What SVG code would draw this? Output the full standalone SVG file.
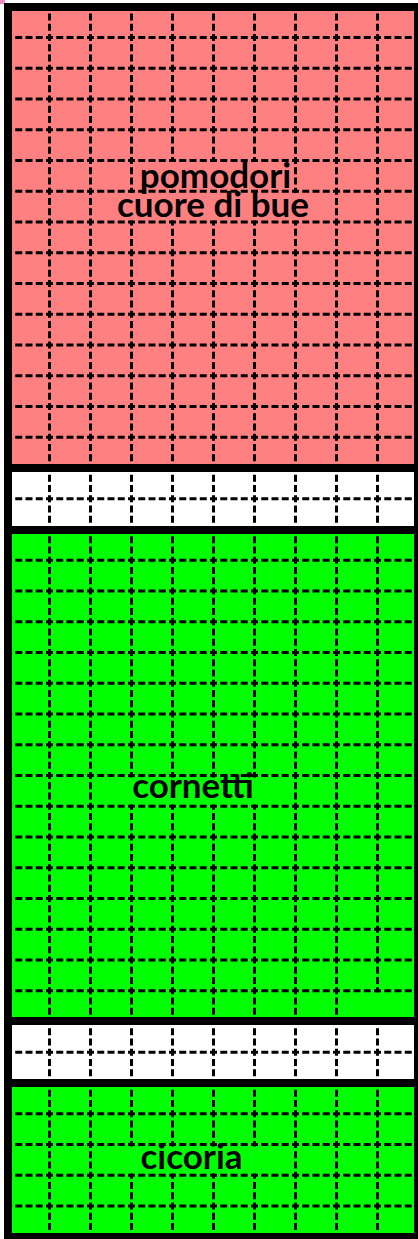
<svg xmlns="http://www.w3.org/2000/svg" width="418" height="1239" viewBox="0 0 418 1239">
<style>
.v{stroke:#000;stroke-width:3;stroke-dasharray:7 3.25;fill:none}
.h{stroke:#000;stroke-width:3;stroke-dasharray:7 3.25;fill:none}
.b{stroke:#000;stroke-width:8;fill:none}
.t{font-family:Lato,"Open Sans","Liberation Sans",sans-serif;font-weight:700;font-size:35px;fill:#000;text-anchor:middle}
.pk{fill:#FF8080}.gr{fill:#00FF00}.wh{fill:#FFFFFF}
</style>
<rect x="0" y="0" width="418" height="1239" fill="#FFFFFF"/>
<rect x="0" y="0" width="5" height="4" fill="#F08CBE"/>
<g id="fills">
<rect class="pk" x="12" y="11" width="402" height="453"/>
<rect class="wh" x="12" y="472" width="402" height="54"/>
<rect class="gr" x="12" y="534" width="402" height="483"/>
<rect class="wh" x="12" y="1025" width="402" height="54"/>
<rect class="gr" x="12" y="1087" width="402" height="146"/>
</g>
<g id="connectors">
<g id="vlines">
<line class="v" x1="49.5" y1="3.25" x2="49.5" y2="1239"/>
<line class="v" x1="90.5" y1="3.25" x2="90.5" y2="1239"/>
<line class="v" x1="131.5" y1="3.25" x2="131.5" y2="1239"/>
<line class="v" x1="172.5" y1="3.25" x2="172.5" y2="1239"/>
<line class="v" x1="213.5" y1="3.25" x2="213.5" y2="1239"/>
<line class="v" x1="254.5" y1="3.25" x2="254.5" y2="1239"/>
<line class="v" x1="295.5" y1="3.25" x2="295.5" y2="1239"/>
<line class="v" x1="336.5" y1="3.25" x2="336.5" y2="1239"/>
<line class="v" x1="377.5" y1="3.25" x2="377.5" y2="1239"/>
</g>
<g id="patches">
<rect class="pk" x="134" y="162" width="159.5" height="28"/>
<rect class="pk" x="114" y="193" width="198" height="27.5"/>
<rect class="gr" x="126" y="777.5" width="136" height="27"/>
<rect class="gr" x="370" y="992.5" width="15" height="26"/>
<rect class="gr" x="126" y="1146.5" width="136" height="27"/>
</g>
<g id="hlines">
<line class="h" x1="5" y1="37.5" x2="418" y2="37.5"/>
<line class="h" x1="5" y1="68.25" x2="418" y2="68.25"/>
<line class="h" x1="5" y1="99" x2="418" y2="99"/>
<line class="h" x1="5" y1="129.75" x2="418" y2="129.75"/>
<line class="h" x1="5" y1="160.5" x2="418" y2="160.5"/>
<line class="h" x1="5" y1="191.25" x2="418" y2="191.25"/>
<line class="h" x1="5" y1="222" x2="418" y2="222"/>
<line class="h" x1="5" y1="252.75" x2="418" y2="252.75"/>
<line class="h" x1="5" y1="283.5" x2="418" y2="283.5"/>
<line class="h" x1="5" y1="314.25" x2="418" y2="314.25"/>
<line class="h" x1="5" y1="345" x2="418" y2="345"/>
<line class="h" x1="5" y1="375.75" x2="418" y2="375.75"/>
<line class="h" x1="5" y1="406.5" x2="418" y2="406.5"/>
<line class="h" x1="5" y1="437.25" x2="418" y2="437.25"/>
<line class="h" x1="5" y1="498.75" x2="418" y2="498.75"/>
<line class="h" x1="5" y1="560.25" x2="418" y2="560.25"/>
<line class="h" x1="5" y1="591" x2="418" y2="591"/>
<line class="h" x1="5" y1="621.75" x2="418" y2="621.75"/>
<line class="h" x1="5" y1="652.5" x2="418" y2="652.5"/>
<line class="h" x1="5" y1="683.25" x2="418" y2="683.25"/>
<line class="h" x1="5" y1="714" x2="418" y2="714"/>
<line class="h" x1="5" y1="744.75" x2="418" y2="744.75"/>
<line class="h" x1="5" y1="775.5" x2="418" y2="775.5"/>
<line class="h" x1="5" y1="806.25" x2="418" y2="806.25"/>
<line class="h" x1="5" y1="837" x2="418" y2="837"/>
<line class="h" x1="5" y1="867.75" x2="418" y2="867.75"/>
<line class="h" x1="5" y1="898.5" x2="418" y2="898.5"/>
<line class="h" x1="5" y1="929.25" x2="418" y2="929.25"/>
<line class="h" x1="5" y1="960" x2="418" y2="960"/>
<line class="h" x1="5" y1="990.75" x2="418" y2="990.75"/>
<line class="h" x1="5" y1="1052.25" x2="418" y2="1052.25"/>
<line class="h" x1="5" y1="1113.75" x2="418" y2="1113.75"/>
<line class="h" x1="5" y1="1144.5" x2="418" y2="1144.5"/>
<line class="h" x1="5" y1="1175.25" x2="418" y2="1175.25"/>
<line class="h" x1="5" y1="1206" x2="418" y2="1206"/>
</g>
</g>
<g id="borders">
<rect class="b" x="8" y="7" width="410" height="1230"/>
<line class="b" x1="8" y1="468" x2="418" y2="468"/>
<line class="b" x1="8" y1="530" x2="418" y2="530"/>
<line class="b" x1="8" y1="1021" x2="418" y2="1021"/>
<line class="b" x1="8" y1="1083" x2="418" y2="1083"/>
</g>
<g id="node-pomodori">
<text class="t" x="215.5" y="188">pomodori</text>
<text class="t" x="213" y="217">cuore di bue</text>
</g>
<g id="node-cornetti">
<text class="t" x="193" y="798">cornetti</text>
</g>
<g id="node-cicoria">
<text class="t" x="191.5" y="1169">cicoria</text>
</g>
</svg>
